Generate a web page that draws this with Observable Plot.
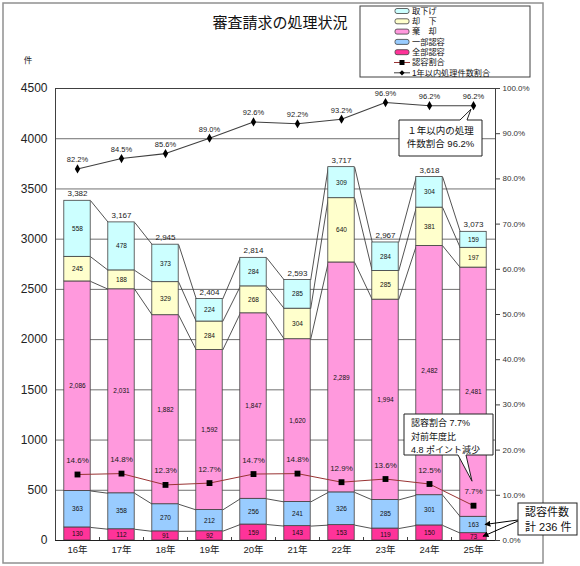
<!DOCTYPE html>
<html><head><meta charset="utf-8">
<script src="https://cdn.jsdelivr.net/npm/d3@7"></script>
<script src="https://cdn.jsdelivr.net/npm/@observablehq/plot@0.6"></script>
<style>
body{margin:0;background:#fff;}
#chart{position:relative;width:580px;height:566px;}
</style></head><body><div id="chart"></div>
<script>
const years = ["16年","17年","18年","19年","20年","21年","22年","23年","24年","25年"];
const zenbuNinyou = [130,112,91,92,159,143,153,119,150,73];
const ichibuNinyou = [363,358,270,212,256,241,326,285,301,163];
const kikyaku = [2086,2031,1882,1592,1847,1620,2289,1994,2482,2481];
const kyakka = [245,188,329,284,268,304,640,285,381,197];
const torisage = [558,478,373,224,284,285,309,284,304,159];
const ninyouRate = [14.6,14.8,12.3,12.7,14.7,14.8,12.9,13.6,12.5,7.7];
const withinYearRate = [82.2,84.5,85.6,89.0,92.6,92.2,93.2,96.9,96.2,96.2];
const seriesNames = ["全部認容","一部認容","棄　却","却　下","取下げ"];
const seriesColors = ["#ff3399","#99ccff","#ff99dd","#ffffcc","#ccffff"];
const countTicks = [0,500,1000,1500,2000,2500,3000,3500,4000,4500];
const pctTicks = [0,10,20,30,40,50,60,70,80,90,100];
const title = "審査請求の処理状況";
const unitLabel = "件";
const legendLabels = ["取下げ","却　下","棄　却","一部認容","全部認容","認容割合","1年以内処理件数割合"];
const callout1 = ["１年以内の処理","件数割合 96.2%"];
const callout2 = ["認容割合 7.7%","対前年度比","4.8 ポイント減少"];
const callout3 = ["認容件数","計 236 件"];

const PCT = 45; // 100% == 4500 on shared axis
const HW = 0.3; // half bar width in band units
const series = [zenbuNinyou, ichibuNinyou, kikyaku, kyakka, torisage];

const segs = [];
const tops = years.map(() => []);
years.forEach((yr, i) => {
  let c = 0;
  series.forEach((s, k) => {
    segs.push({i, k, y1: c, y2: c + s[i], v: s[i]});
    c += s[i];
    tops[i].push(c);
  });
});
const links = [];
for (let k = 0; k < series.length; k++)
  for (let i = 0; i < years.length - 1; i++)
    links.push({x1: i + HW, x2: i + 1 - HW, y1: tops[i][k], y2: tops[i + 1][k]});
const totals = years.map((y, i) => ({i, t: tops[i][series.length - 1]}));
const rateData = years.map((y, i) => ({i, r: ninyouRate[i], w: withinYearRate[i]}));
const fmt = d3.format(",");
const idx = d3.range(years.length);

const plot = Plot.plot({
  width: 580, height: 566,
  marginLeft: 55, marginRight: 85, marginTop: 88, marginBottom: 26,
  style: {fontFamily: "'Liberation Sans','Noto Sans CJK JP',sans-serif", fontSize: "10px", color: "#222", background: "#fff"},
  x: {domain: [-0.5, years.length - 0.5]},
  y: {domain: [0, 4500]},
  marks: [
    Plot.gridY(countTicks, {stroke: "#707070", strokeOpacity: 1, strokeWidth: 1}),
    Plot.frame({stroke: "#404040"}),
    Plot.axisX(idx.slice(0, -1).map(i => i + 0.5), {tickSize: 3, dy: -3, tickFormat: () => "", stroke: "#404040", label: null}),
    Plot.link(links, {x1: "x1", x2: "x2", y1: "y1", y2: "y2", stroke: "#404040", strokeWidth: 0.9}),
    Plot.rect(segs, {x1: d => d.i - HW, x2: d => d.i + HW, y1: "y1", y2: "y2", fill: d => seriesColors[d.k], stroke: "#404040", strokeWidth: 0.8}),
    Plot.ruleY([0], {stroke: "#202020"}),
    Plot.text(segs, {ariaLabel: "seglabel", x: "i", y: d => (d.y1 + d.y2) / 2, text: d => fmt(d.v), fontSize: 6.5, fill: "#111"}),
    Plot.text(totals, {x: "i", y: "t", text: d => fmt(d.t), dy: -7, fontSize: 8, fill: "#222"}),
    Plot.line(rateData, {x: "i", y: d => d.r * PCT, stroke: "#993333", strokeWidth: 1}),
    Plot.dot(rateData, {x: "i", y: d => d.r * PCT, symbol: "square", r: 3.3, fill: "#000"}),
    Plot.text(rateData, {x: "i", y: d => d.r * PCT, text: d => d.r.toFixed(1) + "%", dy: -14, fontSize: 8, fill: "#222"}),
    Plot.line(rateData, {x: "i", y: d => d.w * PCT, stroke: "#404040", strokeWidth: 1.1}),
    Plot.dot(rateData, {x: "i", y: d => d.w * PCT, symbol: "diamond", r: 2.8, fill: "#000"}),
    Plot.text(rateData, {x: "i", y: d => d.w * PCT, text: d => d.w.toFixed(1) + "%", dy: -9, fontSize: 7.5, fill: "#222"}),
    Plot.axisY(countTicks, {anchor: "left", tickSize: 0, tickPadding: 8, tickFormat: d => String(d), fontSize: 12, label: null, fill: "#222"}),
    Plot.axisY(pctTicks.map(p => p * PCT), {anchor: "right", tickSize: 4, tickPadding: 3, tickFormat: v => (v / PCT).toFixed(1) + "%", fontSize: 8, label: null, stroke: "#404040", fill: "#333"}),
    Plot.axisX(idx, {tickSize: 0, tickPadding: 6, tickFormat: i => years[i], fontSize: 9.5, label: null, fill: "#222"})
  ]
});
document.getElementById("chart").appendChild(plot);

const X = plot.scale("x"), Y = plot.scale("y");
const svg = d3.select(plot);
const FF = "'Liberation Sans','Noto Sans CJK JP',sans-serif";

// boxes behind segment labels
svg.selectAll('g[aria-label="seglabel"] text').each(function() {
  const b = this.getBBox();
  const r = document.createElementNS("http://www.w3.org/2000/svg", "rect");
  r.setAttribute("x", b.x - 2); r.setAttribute("y", b.y - 0.5);
  r.setAttribute("width", b.width + 4); r.setAttribute("height", b.height + 1);
  r.setAttribute("fill", "#fffff4"); r.setAttribute("stroke", "#222"); r.setAttribute("stroke-width", 0.8);
  const tr = this.getAttribute("transform"); if (tr) r.setAttribute("transform", tr);
  this.parentNode.insertBefore(r, this);
});

const over = svg.append("g").attr("font-family", FF).attr("text-anchor", "start");
// outer frame
over.append("rect").attr("x", 3).attr("y", 3).attr("width", 540).attr("height", 560)
  .attr("fill", "none").attr("stroke", "#909090").attr("stroke-width", 1.5);
// title
over.append("text").attr("x", 280).attr("y", 23).attr("text-anchor", "middle").attr("dy", "0.35em")
  .attr("font-size", 15).attr("fill", "#111").text(title);
over.append("text").attr("x", 28).attr("y", 60).attr("text-anchor", "middle").attr("dy", "0.35em")
  .attr("font-size", 8.5).attr("fill", "#222").text(unitLabel);

// legend
const lg = over.append("g");
lg.append("rect").attr("x", 360).attr("y", 6).attr("width", 170).attr("height", 71)
  .attr("fill", "#fff").attr("stroke", "#404040");
const legendColors = [seriesColors[4], seriesColors[3], seriesColors[2], seriesColors[1], seriesColors[0]];
legendLabels.forEach((lab, j) => {
  const yy = 11 + j * 10.3;
  if (j < 5) {
    lg.append("rect").attr("x", 395).attr("y", yy - 2.5).attr("width", 14).attr("height", 5).attr("rx", 2)
      .attr("fill", legendColors[j]).attr("stroke", "#404040").attr("stroke-width", 0.8);
  } else {
    lg.append("line").attr("x1", 394).attr("x2", 410).attr("y1", yy).attr("y2", yy)
      .attr("stroke", j === 5 ? "#993333" : "#404040").attr("stroke-width", 1);
    if (j === 5) lg.append("rect").attr("x", 399.5).attr("y", yy - 2.5).attr("width", 5).attr("height", 5).attr("fill", "#000");
    else lg.append("path").attr("d", `M402,${yy-2.6}L404.6,${yy}L402,${yy+2.6}L399.4,${yy}Z`).attr("fill", "#000");
  }
  lg.append("text").attr("x", 412).attr("y", yy).attr("dy", "0.35em").attr("text-anchor", "start")
    .attr("font-size", 8.2).attr("fill", "#111").text(lab);
});

// callout 1
const t1x = X.apply(9) - 2, t1y = Y.apply(withinYearRate[9] * PCT) + 4;
over.append("path").attr("d", `M399,120H460L${t1x},${t1y}L467,120H482V156H399Z`)
  .attr("fill", "#fff").attr("stroke", "#222").attr("stroke-width", 1);
callout1.forEach((s, j) => over.append("text").attr("x", 440.5).attr("y", 131 + j * 13).attr("dy", "0.35em")
  .attr("text-anchor", "middle").attr("font-size", 9.5).attr("fill", "#111").text(s));

// callout 2
const t2x = X.apply(9) - 1, t2y = Y.apply(ninyouRate[9] * PCT) - 24;
over.append("path").attr("d", `M404,414H493V455H466L${t2x},${t2y}L458,455H404Z`)
  .attr("fill", "#fff").attr("stroke", "#222").attr("stroke-width", 1);
callout2.forEach((s, j) => over.append("text").attr("x", 411).attr("y", 423 + j * 13.5).attr("dy", "0.35em")
  .attr("text-anchor", "start").attr("font-size", 9).attr("fill", "#111").text(s));

// callout 3 with arrows
const defs = svg.append("defs");
defs.append("marker").attr("id", "ah").attr("viewBox", "0 0 10 10").attr("refX", 9).attr("refY", 5)
  .attr("markerWidth", 6).attr("markerHeight", 6).attr("orient", "auto")
  .append("path").attr("d", "M0,0L10,5L0,10Z").attr("fill", "#000");
const s1 = segs.find(d => d.i === 9 && d.k === 1), s0 = segs.find(d => d.i === 9 && d.k === 0);
over.append("line").attr("x1", 518).attr("y1", 520).attr("x2", X.apply(9) + 12).attr("y2", Y.apply((s1.y1 + s1.y2) / 2))
  .attr("stroke", "#000").attr("stroke-width", 1).attr("marker-end", "url(#ah)");
over.append("line").attr("x1", 518).attr("y1", 521).attr("x2", X.apply(9) + 10).attr("y2", Y.apply((s0.y1 + s0.y2) / 2))
  .attr("stroke", "#000").attr("stroke-width", 1).attr("marker-end", "url(#ah)");
over.append("rect").attr("x", 518).attr("y", 503).attr("width", 59).attr("height", 32)
  .attr("fill", "#fff").attr("stroke", "#222");
callout3.forEach((s, j) => over.append("text").attr("x", 525).attr("y", 512 + j * 15).attr("dy", "0.35em")
  .attr("text-anchor", "start").attr("font-size", 11).attr("fill", "#111").text(s));
</script></body></html>
